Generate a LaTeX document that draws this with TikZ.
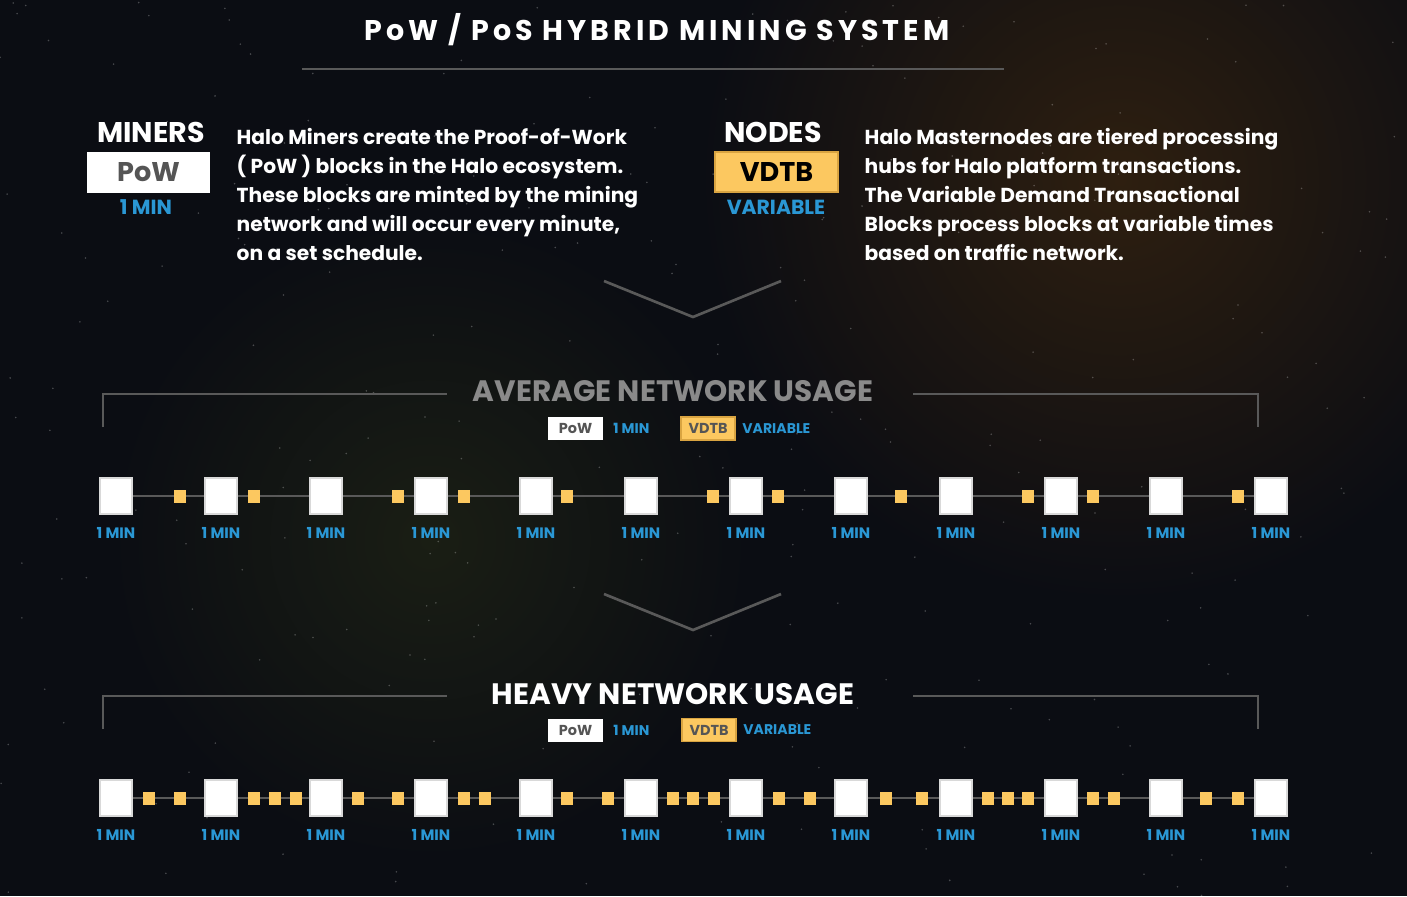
\documentclass[tikz,border=0pt]{standalone}
\usepackage{fontspec}
\setmainfont{Poppins}
\newfontfamily\spacedfont{Poppins}[LetterSpace=14]
\usetikzlibrary{positioning}
\usetikzlibrary{backgrounds}
\definecolor{spacebg}{HTML}{0B0D13}
\definecolor{haloblue}{HTML}{2A97D4}
\definecolor{haloyellow}{HTML}{FCC860}
\definecolor{haloedge}{HTML}{D9A441}
\definecolor{rulegray}{HTML}{595959}
\definecolor{headgray}{HTML}{8A8A8A}
\definecolor{powtext}{HTML}{555555}
\definecolor{nebulawarm}{HTML}{2E1F10}
\definecolor{nebulagreen}{HTML}{1A1E14}
\tikzstyle{powblock}=[fill=white, draw=black!15, minimum width=0.32cm, minimum height=0.36cm, inner sep=0pt]
\tikzstyle{vdtbdot}=[fill=haloyellow, minimum width=0.12cm, minimum height=0.13cm, inner sep=0pt]
\tikzstyle{minlabel}=[text=haloblue, font=\bfseries\fontsize{4.3}{5}\selectfont, inner sep=0pt]
\tikzstyle{timeline}=[draw=rulegray, line width=0.5pt]
\tikzstyle{bracket}=[draw=rulegray, line width=0.35pt]
\tikzstyle{chevron}=[draw=rulegray, line width=0.75pt]
\tikzstyle{heading}=[text=white, font=\bfseries\fontsize{8.1}{9}\selectfont, inner sep=0pt]
\tikzstyle{bigpow}=[fill=white, text=powtext, minimum width=1.23cm, minimum height=0.41cm, inner sep=0pt, font=\bfseries\fontsize{7.7}{8}\selectfont]
\tikzstyle{bigvdtb}=[fill=haloyellow, draw=haloedge, text=black, minimum width=1.23cm, minimum height=0.40cm, inner sep=0pt, font=\bfseries\fontsize{7.7}{8}\selectfont]
\tikzstyle{bigmin}=[text=haloblue, font=\bfseries\fontsize{5.8}{6}\selectfont, inner sep=0pt]
\tikzstyle{paragraph}=[text=white, align=left, inner sep=0pt, font=\bfseries\fontsize{5.75}{8.25}\selectfont]
\tikzstyle{usage}=[font=\bfseries\fontsize{8.4}{10}\selectfont, inner sep=0pt]
\tikzstyle{legendpow}=[fill=white, text=powtext, minimum width=0.55cm, minimum height=0.23cm, inner sep=0pt, font=\bfseries\fontsize{4.1}{5}\selectfont]
\tikzstyle{legendvdtb}=[fill=haloyellow, draw=haloedge, text=powtext, minimum width=0.54cm, minimum height=0.23cm, inner sep=0pt, font=\bfseries\fontsize{4.1}{5}\selectfont]
\tikzstyle{legendmin}=[text=haloblue, font=\bfseries\fontsize{4.0}{5}\selectfont, inner sep=0pt]

\begin{document}
\begin{tikzpicture}[x=0.01cm, y=-0.01cm]
  \useasboundingbox (0,0) rectangle (1407,896);
  % space backdrop
  \begin{pgfonlayer}{background}
    \fill[spacebg] (0,0) rectangle (1407,896);
    \begin{scope}
      \clip (0,0) rectangle (1407,896);
      \shade[inner color=nebulawarm, outer color=spacebg] (1120,180) circle (4.2cm);
      \shade[inner color=nebulagreen, outer color=spacebg] (430,540) circle (3.2cm);
      \pgfmathsetseed{11}
      \foreach \k in {1,...,260}{
        \pgfmathsetmacro\sx{rnd*1407}
        \pgfmathsetmacro\sy{rnd*896}
        \fill[white, opacity=0.25] (\sx,\sy) circle (0.25pt);
      }
    \end{scope}
  \end{pgfonlayer}

  % header
  \node[text=white, inner sep=0pt, font=\spacedfont\bfseries\fontsize{8.1}{9}\selectfont] (title) at (657,30) {PoW / PoS HYBRID MINING SYSTEM};
  \draw[bracket] (302,69) -- (1004,69);

  % miners
  \node[heading] (miners) at (151,132) {MINERS};
  \node[bigpow] (pow) at (148.5,172.5) {PoW};
  \node[bigmin] (powmin) at (146,207) {1 MIN};
  \node[paragraph, anchor=north west] (minertext) at (236,128) {Halo Miners create the Proof-of-Work\\( PoW ) blocks in the Halo ecosystem.\\These blocks are minted by the mining\\network and will occur every minute,\\on a set schedule.};

  % nodes
  \node[heading] (nodes) at (773,132) {NODES};
  \node[bigvdtb] (vdtb) at (776.5,172) {VDTB};
  \node[bigmin] (vdtbvar) at (776,207) {VARIABLE};
  \node[paragraph, anchor=north west] (nodetext) at (864,128) {Halo Masternodes are tiered processing\\hubs for Halo platform transactions.\\The Variable Demand Transactional\\Blocks process blocks at variable times\\based on traffic network.};

  \draw[chevron] (604,281) -- (693,317) -- (781,281);

  % average network usage
  \node[usage, text=headgray] (avtitle) at (673,391) {AVERAGE NETWORK USAGE};
  \draw[bracket] (103,427) |- (447,394);
  \draw[bracket] (913,394) -| (1258,427);
  \node[legendpow] (avpow) at (575.5,428.5) {PoW};
  \node[legendmin, right=0.09cm of avpow] (avpowmin) {1 MIN};
  \node[legendvdtb] (avvdtb) at (708,428.5) {VDTB};
  \node[legendmin, right=0.06cm of avvdtb] (avvdtbvar) {VARIABLE};

  \foreach \i in {1,...,12}
    \node[powblock] (a\i) at ({116+105*(\i-1)},496) {};
  \foreach \i in {1,...,12}
    \node[minlabel, below=0.12cm of a\i] (am\i) {1 MIN};
  \foreach \x [count=\k] in {180,254,398,464,567,713,778,901,1028,1093,1238}
    \node[vdtbdot] (ad\k) at (\x,496) {};
  \begin{pgfonlayer}{background}
    \draw[timeline] (a1) -- (a12);
  \end{pgfonlayer}

  \draw[chevron] (604,594) -- (693,630) -- (781,594);

  % heavy network usage
  \node[usage, text=white] (hvtitle) at (673,694) {HEAVY NETWORK USAGE};
  \draw[bracket] (103,729) |- (447,696);
  \draw[bracket] (913,696) -| (1258,729);
  \node[legendpow] (hvpow) at (575.5,730) {PoW};
  \node[legendmin, right=0.09cm of hvpow] (hvpowmin) {1 MIN};
  \node[legendvdtb] (hvvdtb) at (709,730) {VDTB};
  \node[legendmin, right=0.06cm of hvvdtb] (hvvdtbvar) {VARIABLE};

  \foreach \i in {1,...,12}
    \node[powblock] (h\i) at ({116+105*(\i-1)},798) {};
  \foreach \i in {1,...,12}
    \node[minlabel, below=0.12cm of h\i] (hm\i) {1 MIN};
  \foreach \x [count=\k] in {149,180,254,275,296,358,398,464,485,567,608,673,693,714,779,810,886,922,988,1008,1028,1093,1114,1206,1238}
    \node[vdtbdot] (hd\k) at (\x,798) {};
  \begin{pgfonlayer}{background}
    \draw[timeline] (h1) -- (h12);
  \end{pgfonlayer}
\end{tikzpicture}
\end{document}
